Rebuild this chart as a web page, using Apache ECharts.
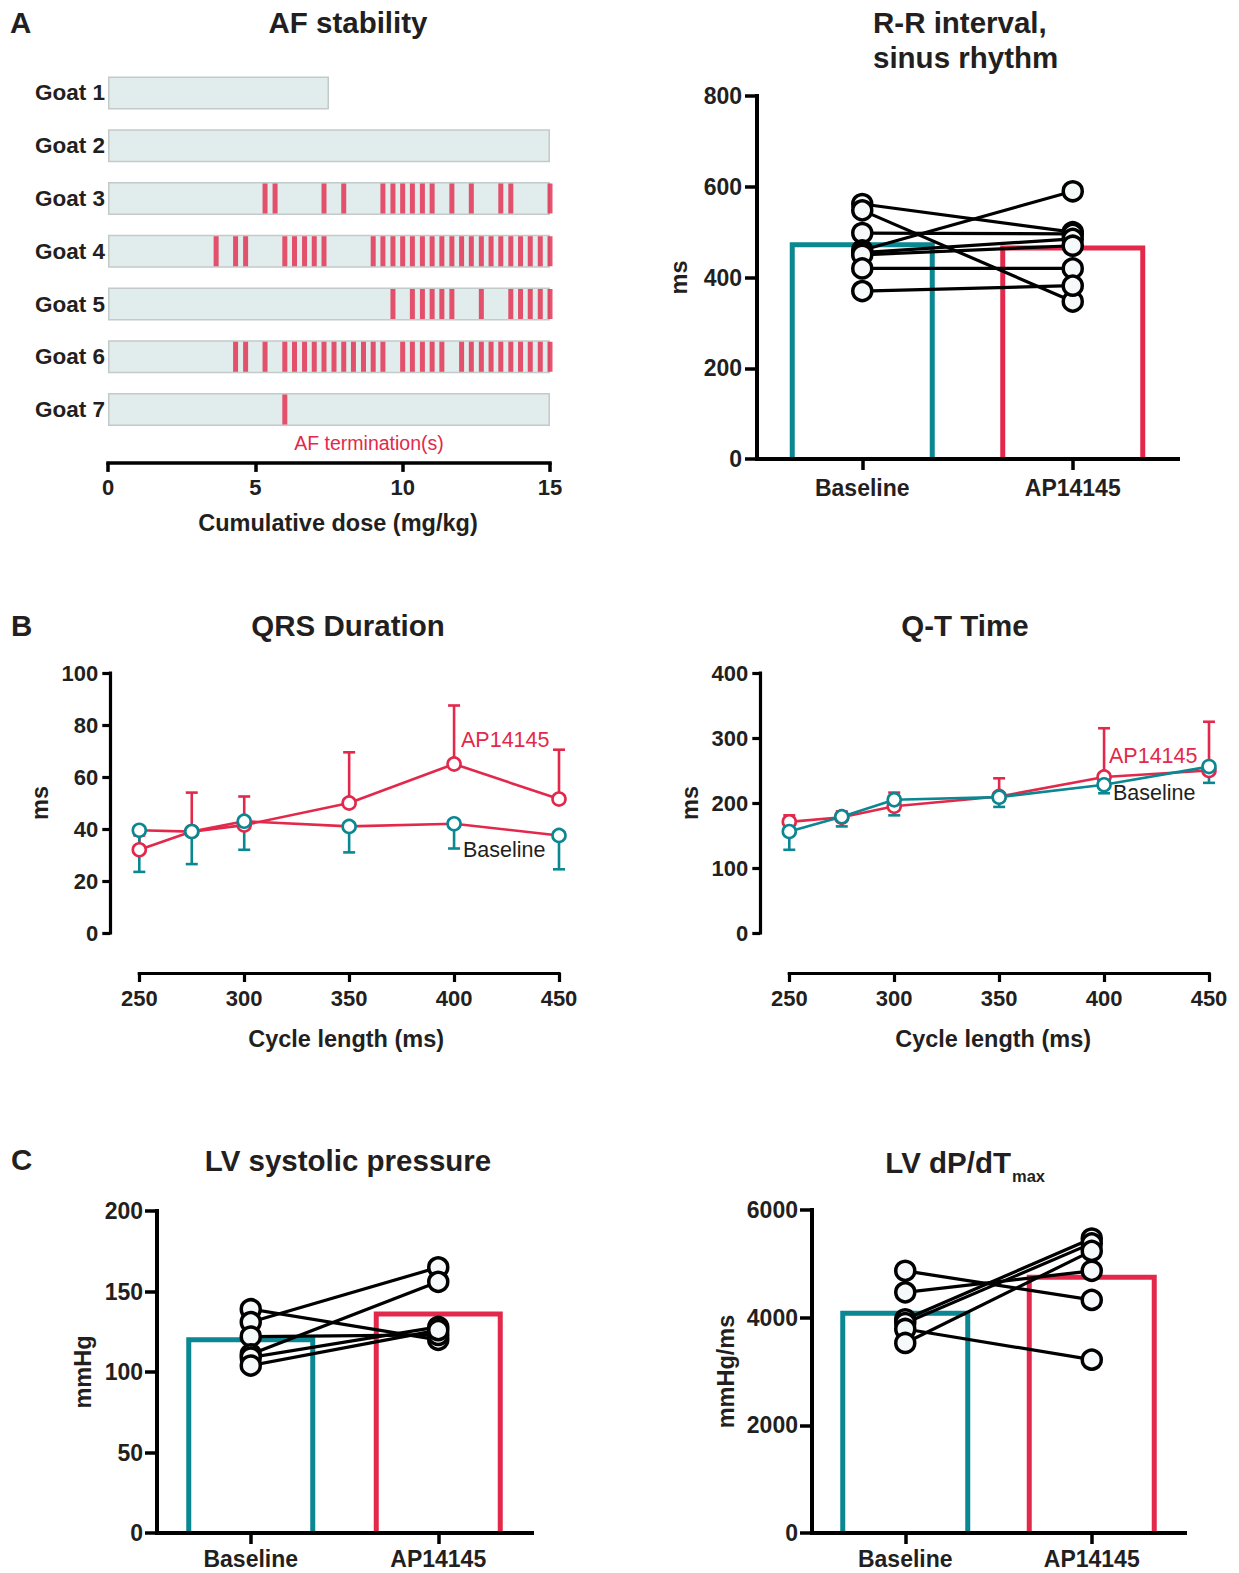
<!DOCTYPE html>
<html>
<head>
<meta charset="utf-8">
<script src="https://cdn.jsdelivr.net/npm/echarts/dist/echarts.min.js"></script>
<style>
html,body{margin:0;padding:0;background:#fff;}
#c{width:1239px;height:1573px;}
</style>
</head>
<body>
<div id="c"></div>
<script>
// ---------------- DATA ----------------
// Panel A: AF stability
const goats = ['Goat 1','Goat 2','Goat 3','Goat 4','Goat 5','Goat 6','Goat 7'];
const afDoseMax = [7.5, 15, 15, 15, 15, 15, 15];
const goat1Term = [];
const goat2Term = [];
const goat3Term = [5.33, 5.67, 7.33, 8, 9.33, 9.67, 10, 10.33, 10.67, 11, 11.67, 12.33, 13.33, 13.67, 15];
const goat4Term = [3.67, 4.33, 4.67, 6, 6.33, 6.67, 7, 7.33, 9, 9.33, 9.67, 10, 10.33, 10.67, 11, 11.33, 11.67, 12, 12.33, 12.67, 13, 13.33, 13.67, 14, 14.33, 14.67, 15];
const goat5Term = [9.67, 10.33, 10.67, 11, 11.33, 11.67, 12.67, 13.67, 14, 14.33, 14.67, 15];
const goat6Term = [4.33, 4.67, 5.33, 6, 6.33, 6.67, 7, 7.33, 7.67, 8, 8.33, 8.67, 9, 9.33, 10, 10.33, 10.67, 11, 11.33, 12, 12.33, 12.67, 13, 13.33, 13.67, 14, 14.33, 14.67, 15];
const goat7Term = [6];
const doseTicks = [0, 5, 10, 15];

// Groups
const groups = ['Baseline', 'AP14145'];

// R-R interval
const rrMean = [472, 465];
const rrBaseline = [562, 548, 498, 460, 455, 450, 420, 370];
const rrAP       = [500, 347, 496, 590, 485, 470, 420, 382];

// QRS duration
const cycleLength = [250, 275, 300, 350, 400, 450];
const qrsAP        = [32, 39, 41.5, 50, 65, 51.5];
const qrsAPUpper   = [37.5, 54, 52.5, 69.5, 87.5, 70.5];
const qrsBase      = [39.5, 39, 43, 41, 42, 37.5];
const qrsBaseLower = [23.5, 26.5, 32, 31, 32.5, 24.5];

// Q-T time
const qtAP        = [171, 178, 195, 210, 240, 250];
const qtAPUpper   = [181, 187, 216, 238, 315, 325];
const qtBase      = [156, 179, 205, 209, 228, 256];
const qtBaseLower = [128, 164, 181, 194, 215, 231];

// LV systolic pressure
const lvspMean = [120, 136];
const lvspBaseline = [139, 131, 122, 111, 109, 104];
const lvspAP       = [120, 165, 123, 156, 128, 126];

// LV dP/dT max
const dpMean = [4080, 4750];
const dpBaseline = [4870, 4470, 3970, 3900, 3790, 3530];
const dpAP       = [4330, 4870, 5470, 5380, 3220, 5240];

// ---------------- STYLE ----------------
const FONT = "'Liberation Sans', Arial, Helvetica, sans-serif";
const INK = '#231f20';
const TEAL = '#0b8792';
const RED = '#e2294b';

const plain = v => String(v);
const lab = (size, margin) => ({fontSize:size, fontWeight:'bold', color:INK, fontFamily:FONT, margin:margin, formatter:plain});
const catLab = (size, margin) => ({fontSize:size, fontWeight:'bold', color:INK, fontFamily:FONT, margin:margin});
const nameStyle = (extra) => Object.assign({fontSize:23.5, fontWeight:'bold', color:INK, fontFamily:FONT}, extra||{});
const aLine = (w) => ({show:true, onZero:false, lineStyle:{color:'#000', width:w, cap:'square'}});
const aTick = (len, w, align) => ({show:true, length:len, alignWithLabel:!!align, lineStyle:{color:'#000', width:w}});

const terms = [goat1Term, goat2Term, goat3Term, goat4Term, goat5Term, goat6Term, goat7Term];
const termData = [];
terms.forEach((arr, i) => arr.forEach(d => termData.push([d, goats[i]])));

function errorBars(xs, means, ends, color, gi) {
  return {
    type:'custom', xAxisIndex:gi, yAxisIndex:gi, silent:true, z:2,
    encode:{x:0, y:1},
    data: xs.map((x,i) => [x, means[i], ends[i]]),
    renderItem: function(params, api) {
      const p0 = api.coord([api.value(0), api.value(1)]);
      const p1 = api.coord([api.value(0), api.value(2)]);
      const hw = 6;
      return {type:'group', children:[
        {type:'line', shape:{x1:p0[0], y1:p0[1], x2:p1[0], y2:p1[1]}, style:{stroke:color, lineWidth:2.6}},
        {type:'line', shape:{x1:p1[0]-hw, y1:p1[1], x2:p1[0]+hw, y2:p1[1]}, style:{stroke:color, lineWidth:2.6}}
      ]};
    }
  };
}

function trendLine(xs, ys, lineColor, markColor, gi) {
  return {
    type:'line', xAxisIndex:gi, yAxisIndex:gi, z:3,
    data: xs.map((x,i) => [x, ys[i]]),
    symbol:'circle', symbolSize:13, showSymbol:true,
    lineStyle:{color:lineColor, width:2.6},
    itemStyle:{color:'#ffffff', borderColor:markColor, borderWidth:2.6}
  };
}

function pairedSeries(base, ap, gi) {
  return base.map((b, i) => ({
    type:'line', xAxisIndex:gi, yAxisIndex:gi, z:4,
    data:[b, ap[i]],
    symbol:'circle', symbolSize:19,
    lineStyle:{color:'#000', width:3.2},
    itemStyle:{color:'#f5f9fa', borderColor:'#000', borderWidth:3.5}
  }));
}

// open-bottom outlined mean bars
function meanBars(vals, gi, width) {
  const cols = [TEAL, RED];
  return {
    type:'custom', xAxisIndex:gi, yAxisIndex:gi, z:2, silent:true,
    encode:{x:0, y:1},
    data: vals.map((v,i) => [i, v]),
    renderItem: function(params, api) {
      const i = api.value(0);
      const top = api.coord([i, api.value(1)]);
      const bot = api.coord([i, 0]);
      const h = width / 2;
      return {type:'polyline',
        shape:{points:[[top[0]-h, bot[1]], [top[0]-h, top[1]], [top[0]+h, top[1]], [top[0]+h, bot[1]]]},
        style:{stroke:cols[params.dataIndex], lineWidth:5, fill:null, lineJoin:'miter'}};
    }
  };
}

function txt(x, y, text, o) {
  o = o || {};
  const align = o.align || 'center';
  return {
    type:'text', x:x, y:y, z:100,
    style:{
      text:text, fill:o.color || INK,
      fontSize:o.size || 29.5, fontWeight:o.weight || 'bold', fontFamily:FONT,
      align:align, textAlign:align, verticalAlign:'middle', textVerticalAlign:'middle'
    }
  };
}

// ---------------- OPTION ----------------
const option = {
  animation:false,
  backgroundColor:'#ffffff',
  textStyle:{fontFamily:FONT},
  grid:[
    {left:108, top:66.6, width:442, height:369.3},
    {left:757, top:96, width:421, height:363},
    {left:139.3, top:673, width:419.7, height:260},
    {left:789.3, top:673, width:419.7, height:260},
    {left:157, top:1211, width:375, height:322},
    {left:812, top:1210, width:373, height:323}
  ],
  xAxis:[
    {gridIndex:0, type:'value', min:doseTicks[0], max:doseTicks[doseTicks.length-1], interval:5, offset:27,
      axisLine:aLine(3.5), axisTick:aTick(9, 3.5), axisLabel:lab(22, 14), splitLine:{show:false},
      name:'Cumulative dose (mg/kg)', nameLocation:'middle', nameGap:48, nameTextStyle:nameStyle({padding:[0,0,0,18]})},
    {gridIndex:1, type:'category', data:groups, z:10,
      axisLine:aLine(4), axisTick:aTick(11, 3.5, true), axisLabel:catLab(23, 17), splitLine:{show:false}},
    {gridIndex:2, type:'value', min:250, max:450, interval:50, offset:40,
      axisLine:aLine(3.2), axisTick:aTick(9, 3.2), axisLabel:lab(22, 14), splitLine:{show:false},
      name:'Cycle length (ms)', nameLocation:'middle', nameGap:54, nameTextStyle:nameStyle({padding:[0,6,0,0]})},
    {gridIndex:3, type:'value', min:250, max:450, interval:50, offset:40,
      axisLine:aLine(3.2), axisTick:aTick(9, 3.2), axisLabel:lab(22, 14), splitLine:{show:false},
      name:'Cycle length (ms)', nameLocation:'middle', nameGap:54, nameTextStyle:nameStyle({padding:[0,12,0,0]})},
    {gridIndex:4, type:'category', data:groups, z:10,
      axisLine:aLine(4), axisTick:aTick(11, 3.5, true), axisLabel:catLab(23, 14), splitLine:{show:false}},
    {gridIndex:5, type:'category', data:groups, z:10,
      axisLine:aLine(4), axisTick:aTick(11, 3.5, true), axisLabel:catLab(23, 14), splitLine:{show:false}}
  ],
  yAxis:[
    {gridIndex:0, type:'category', data:goats, inverse:true,
      axisLine:{show:false}, axisTick:{show:false}, axisLabel:catLab(22.5, 3), splitLine:{show:false}},
    {gridIndex:1, type:'value', min:0, max:800, interval:200, z:10,
      axisLine:aLine(4), axisTick:aTick(12, 3.5), axisLabel:lab(23, 15), splitLine:{show:false},
      name:'ms', nameLocation:'middle', nameGap:66, nameTextStyle:nameStyle()},
    {gridIndex:2, type:'value', min:0, max:100, interval:20, offset:29,
      axisLine:aLine(3.2), axisTick:aTick(8, 3.2), axisLabel:lab(22, 12), splitLine:{show:false},
      name:'ms', nameLocation:'middle', nameGap:58, nameTextStyle:nameStyle()},
    {gridIndex:3, type:'value', min:0, max:400, interval:100, offset:29,
      axisLine:aLine(3.2), axisTick:aTick(8, 3.2), axisLabel:lab(22, 12), splitLine:{show:false},
      name:'ms', nameLocation:'middle', nameGap:58, nameTextStyle:nameStyle()},
    {gridIndex:4, type:'value', min:0, max:200, interval:50, z:10,
      axisLine:aLine(4), axisTick:aTick(12, 3.5), axisLabel:lab(23, 14), splitLine:{show:false},
      name:'mmHg', nameLocation:'middle', nameGap:62, nameTextStyle:nameStyle()},
    {gridIndex:5, type:'value', min:0, max:6000, interval:2000, z:10,
      axisLine:aLine(4), axisTick:aTick(12, 3.5), axisLabel:lab(23, 14), splitLine:{show:false},
      name:'mmHg/ms', nameLocation:'middle', nameGap:74, nameTextStyle:nameStyle()}
  ],
  series:[].concat(
    [
      {type:'bar', xAxisIndex:0, yAxisIndex:0, data:afDoseMax, barWidth:33, z:2,
        itemStyle:{color:'#e1ecec', borderColor:'#c4c9c9', borderWidth:1.5}},
      {type:'scatter', xAxisIndex:0, yAxisIndex:0, data:termData, symbol:'rect', symbolSize:[5,30], z:3,
        itemStyle:{color:RED}}
    ],
    [meanBars(rrMean, 1, 140)],
    pairedSeries(rrBaseline, rrAP, 1),
    [
      errorBars(cycleLength, qrsAP, qrsAPUpper, RED, 2),
      errorBars(cycleLength, qrsBase, qrsBaseLower, TEAL, 2),
      trendLine(cycleLength, qrsAP, RED, RED, 2),
      trendLine(cycleLength, qrsBase, RED, TEAL, 2)
    ],
    [
      errorBars(cycleLength, qtAP, qtAPUpper, RED, 3),
      errorBars(cycleLength, qtBase, qtBaseLower, TEAL, 3),
      trendLine(cycleLength, qtAP, RED, RED, 3),
      trendLine(cycleLength, qtBase, TEAL, TEAL, 3)
    ],
    [meanBars(lvspMean, 4, 124)],
    pairedSeries(lvspBaseline, lvspAP, 4),
    [meanBars(dpMean, 5, 125)],
    pairedSeries(dpBaseline, dpAP, 5)
  ),
  graphic:[
    txt(10, 22, 'A', {align:'left'}),
    txt(348, 22, 'AF stability'),
    txt(873, 22, 'R-R interval,', {align:'left'}),
    txt(873, 57, 'sinus rhythm', {align:'left'}),
    txt(369, 443, 'AF termination(s)', {color:RED, size:19.5, weight:'normal'}),
    txt(11, 625, 'B', {align:'left'}),
    txt(348, 625, 'QRS Duration'),
    txt(965, 625, 'Q-T Time'),
    txt(461, 740, 'AP14145', {align:'left', color:RED, size:21.5, weight:'normal'}),
    txt(463, 850, 'Baseline', {align:'left', size:21.5, weight:'normal'}),
    txt(1109, 756, 'AP14145', {align:'left', color:RED, size:21.5, weight:'normal'}),
    txt(1113, 793, 'Baseline', {align:'left', size:21.5, weight:'normal'}),
    txt(11, 1159, 'C', {align:'left'}),
    txt(348, 1160, 'LV systolic pressure'),
    txt(1011, 1162, 'LV dP/dT', {align:'right'}),
    txt(1012, 1176, 'max', {align:'left', size:16.5})
  ]
};

const chart = echarts.init(document.getElementById('c'), null, {renderer:'svg', width:1239, height:1573});
chart.setOption(option);
</script>
</body>
</html>
